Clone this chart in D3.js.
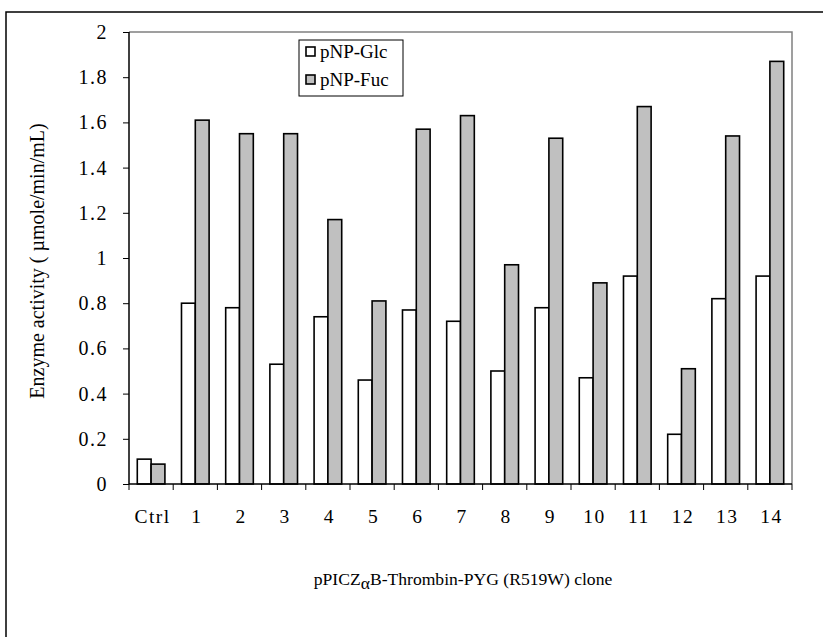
<!DOCTYPE html>
<html><head><meta charset="utf-8">
<script src="https://cdn.jsdelivr.net/npm/d3@7"></script>
<style>body{margin:0;background:#fff}svg{display:block}text{font-family:"Liberation Serif","Times New Roman",serif}</style>
</head><body><svg id="c" width="823" height="637"></svg>
<script>
const categories = ["Ctrl","1","2","3","4","5","6","7","8","9","10","11","12","13","14"];
const seriesNames = ["pNP-Glc","pNP-Fuc"];
const glcValues = [0.11,0.80,0.78,0.53,0.74,0.46,0.77,0.72,0.50,0.78,0.47,0.92,0.22,0.82,0.92];
const fucValues = [0.088,1.61,1.55,1.55,1.17,0.81,1.57,1.63,0.97,1.53,0.89,1.67,0.51,1.54,1.87];
const yTicks = [0,0.2,0.4,0.6,0.8,1,1.2,1.4,1.6,1.8,2];
const yTickLabels = ["0","0.2","0.4","0.6","0.8","1","1.2","1.4","1.6","1.8","2"];
const colors = ["#ffffff","#c0c0c0"];

const svg = d3.select("#c");
const L=129,R=792,T=32,B=484;

// outer frame
svg.append("path").attr("d","M6,640 L6,12 L830,12").attr("fill","none").attr("stroke","#000").attr("stroke-width",1.5);

const x = d3.scaleBand().domain(categories).range([L,R]).padding(0);
const xi = d3.scaleBand().domain(seriesNames).range([0,x.bandwidth()]).paddingInner(0).paddingOuter(0.6);
const y = d3.scaleLinear().domain([0,2]).range([B,T]);

// plot area border (gray top/right)
svg.append("path").attr("d",`M${L},${T} L${R},${T} L${R},${B}`).attr("fill","none").attr("stroke","#808080").attr("stroke-width",1.5);

const data = categories.map((c,i)=>({c, vals:[glcValues[i],fucValues[i]]}));
const g = svg.append("g");
data.forEach(d=>{
  d.vals.forEach((v,j)=>{
    g.append("rect")
      .attr("x", x(d.c)+xi(seriesNames[j]))
      .attr("y", y(v))
      .attr("width", xi.bandwidth())
      .attr("height", y(0)-y(v))
      .attr("fill", colors[j]).attr("stroke","#000").attr("stroke-width",1.6);
  });
});

// y axis
const yAxis = d3.axisLeft(y).tickValues(yTicks).tickFormat((d,i)=>yTickLabels[i]).tickSize(6).tickPadding(15);
const ya = svg.append("g").attr("transform",`translate(${L},0)`).call(yAxis);
ya.select(".domain").attr("stroke","#000").attr("stroke-width",1.5).attr("d",`M-0,${T}V${B}`);
ya.selectAll(".tick line").attr("stroke","#000");
ya.selectAll("text").attr("font-size",20).attr("fill","#000").style("font-family","Liberation Serif").style("letter-spacing","1.5px");

// x axis
const xa = svg.append("g").attr("transform",`translate(0,${B})`);
xa.append("line").attr("x1",L).attr("x2",R).attr("y1",0).attr("y2",0).attr("stroke","#000").attr("stroke-width",1.5);
const bounds = categories.map(c=>x(c)).concat([R]);
xa.selectAll("line.tk").data(bounds).enter().append("line").attr("class","tk")
  .attr("x1",d=>d).attr("x2",d=>d).attr("y1",0).attr("y2",6).attr("stroke","#000");
xa.selectAll("text").data(categories).enter().append("text")
  .attr("x",d=>x(d)+x.bandwidth()/2+1.5).attr("y",39).attr("text-anchor","middle")
  .attr("font-size",19.5).style("letter-spacing","1.5px").text(d=>d);

// axis titles
svg.append("text").attr("transform","translate(44,261) rotate(-90)").attr("text-anchor","middle")
  .attr("font-size",20).text("Enzyme activity ( µmole/min/mL)");
const xt = svg.append("text").attr("x",463).attr("y",585).attr("text-anchor","middle").attr("font-size",17.6);
xt.append("tspan").text("pPICZ");
xt.append("tspan").attr("dy",4).text("α");
xt.append("tspan").attr("dy",-4).text("B-Thrombin-PYG (R519W) clone");

// legend
const lg = svg.append("g").attr("transform","translate(299,40)");
lg.append("rect").attr("x",0).attr("y",0).attr("width",104).attr("height",56).attr("fill","#fff").attr("stroke","#000").attr("stroke-width",1);
seriesNames.forEach((s,i)=>{
  lg.append("rect").attr("x",7).attr("y",7+i*28).attr("width",9).attr("height",9).attr("fill",colors[i]).attr("stroke","#000").attr("stroke-width",1.6);
  lg.append("text").attr("x",21).attr("y",18+i*28).attr("font-size",19).text(s);
});
</script></body></html>
